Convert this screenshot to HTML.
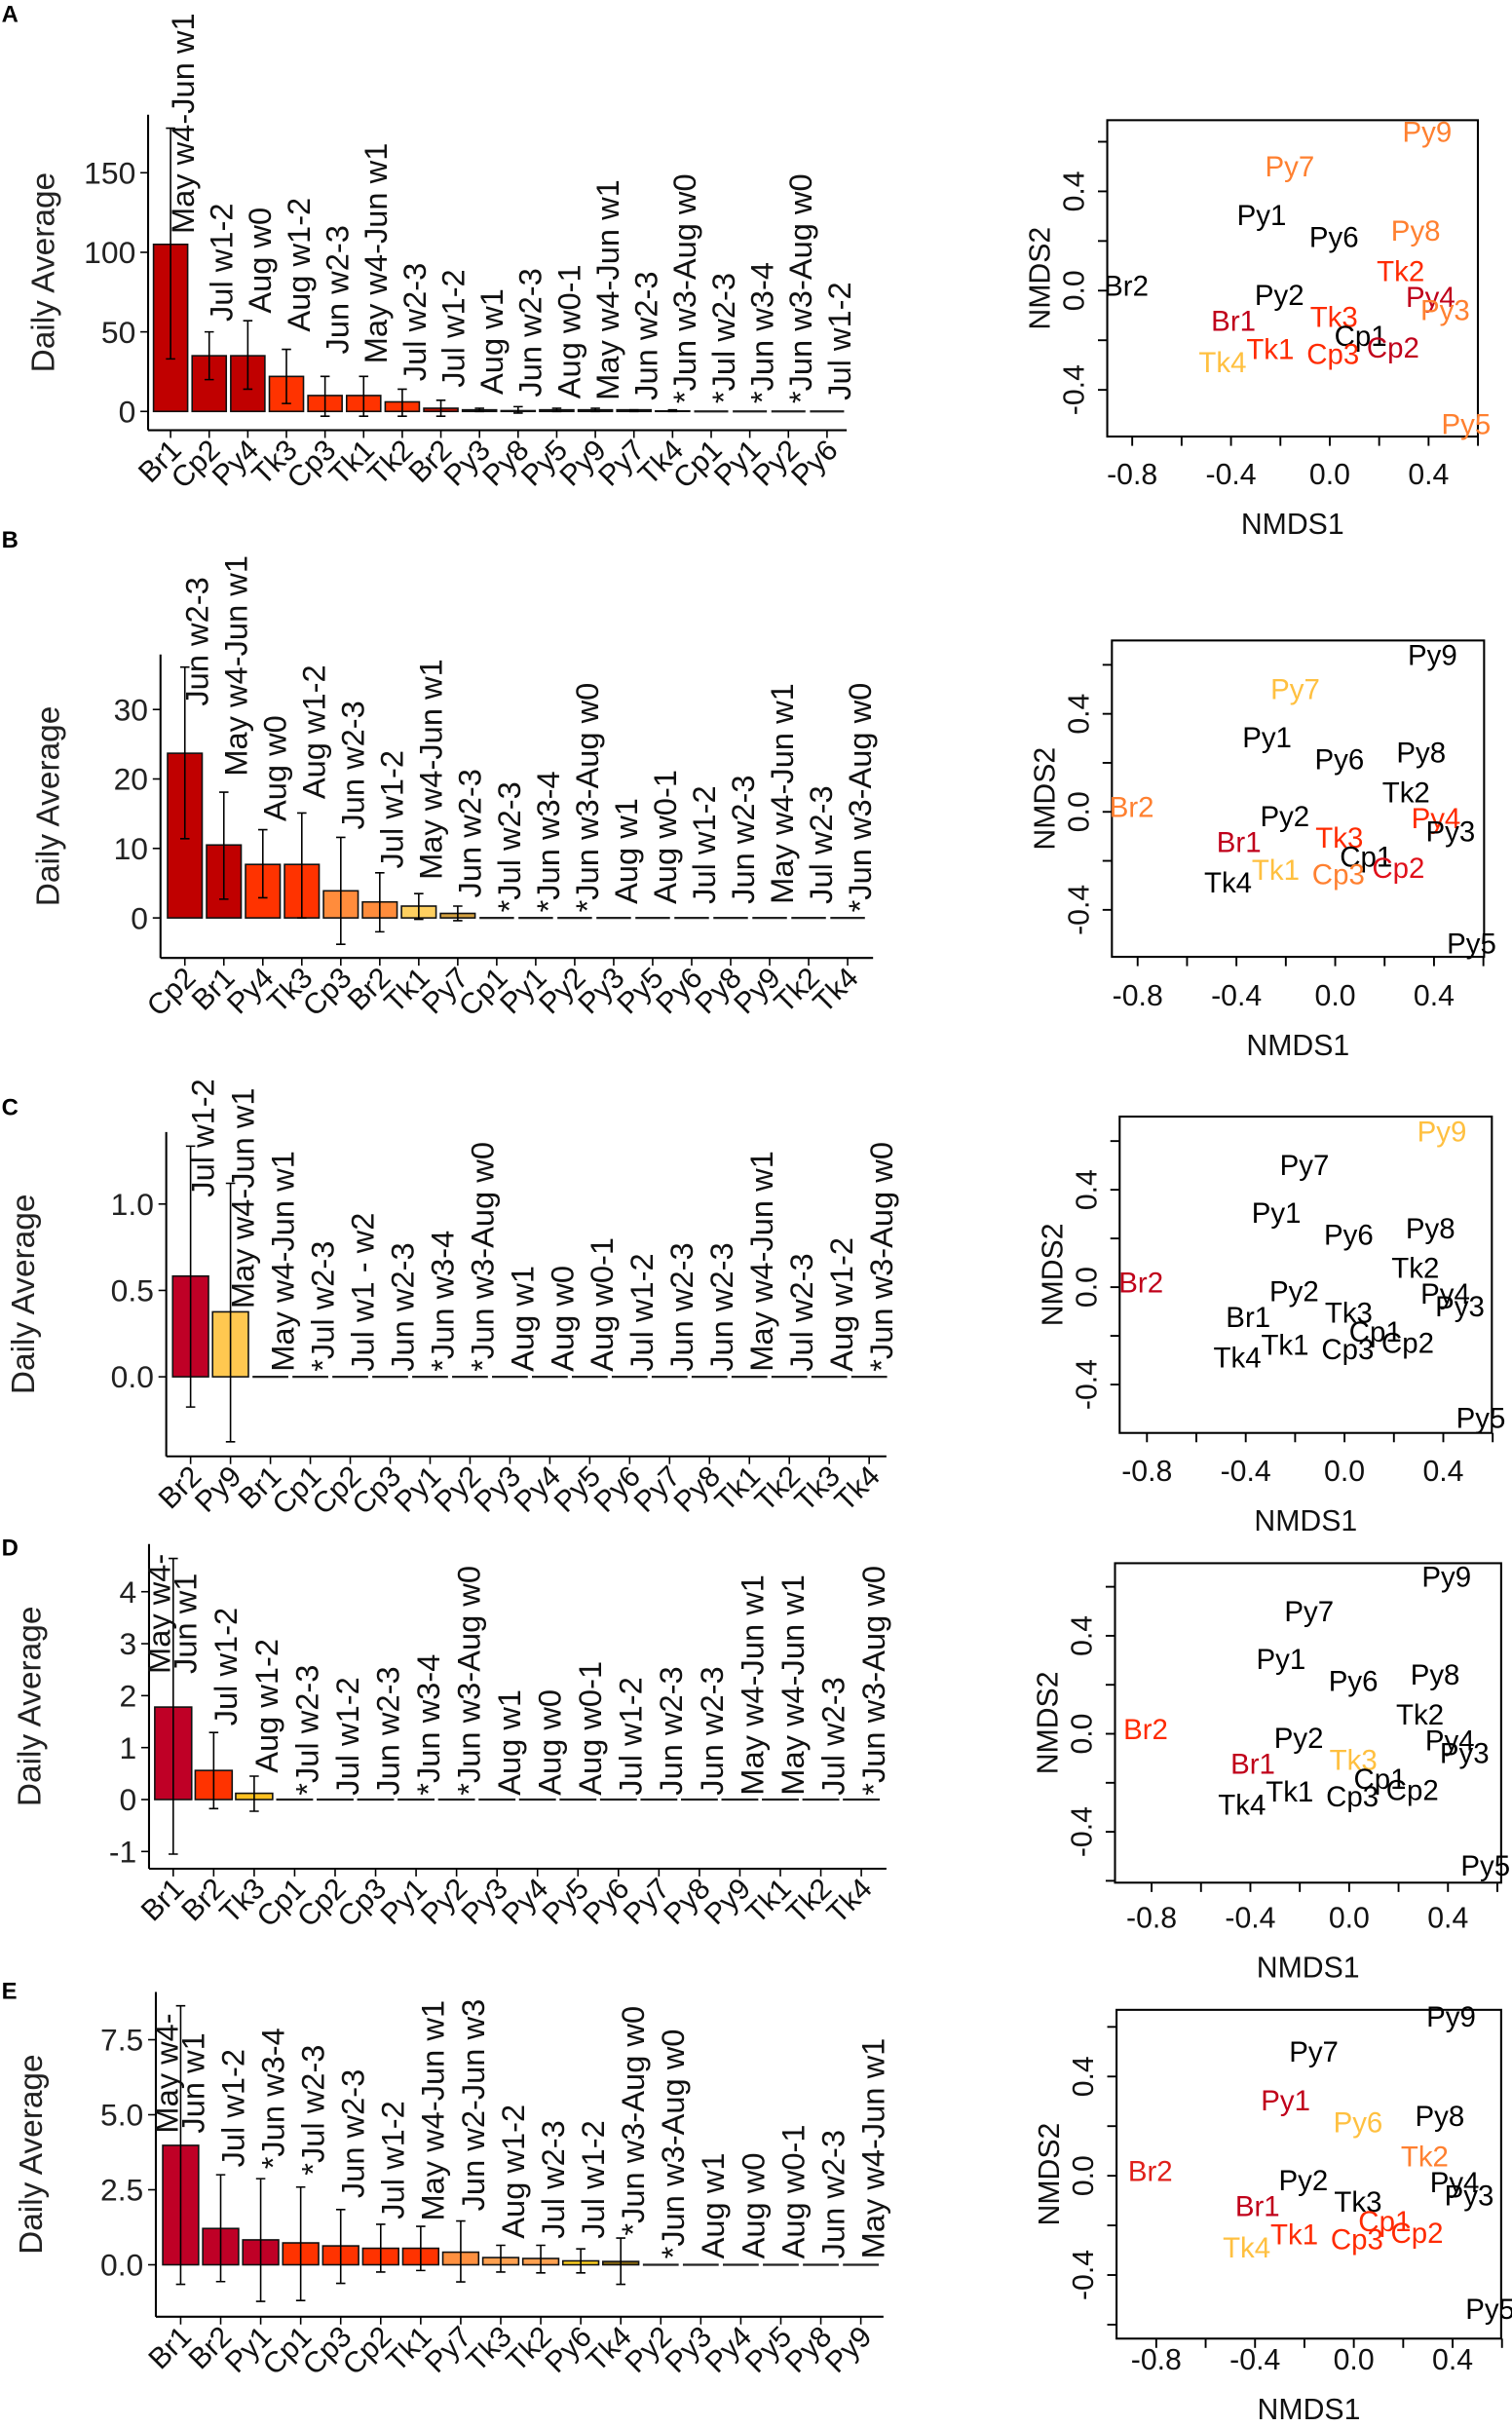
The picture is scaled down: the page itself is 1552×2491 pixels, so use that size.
<!DOCTYPE html>
<html><head><meta charset="utf-8"><title>Daily averages and NMDS</title>
<style>html,body{margin:0;padding:0;background:#fff}svg{display:block}text{font-family:"Liberation Sans",Arial,sans-serif}</style>
</head><body>
<svg id="fig" xmlns="http://www.w3.org/2000/svg" width="1552" height="2491" viewBox="0 0 975 1565" preserveAspectRatio="none"></svg>
<script>
// ---------- Panel A data ----------
const catsA=["Br1","Cp2","Py4","Tk3","Cp3","Tk1","Tk2","Br2","Py3","Py8","Py5","Py9","Py7","Tk4","Cp1","Py1","Py2","Py6"];
const valsA=[105,35,35,22,10,10,6,2,1,0.5,1,1,1,0.3,0,0,0,0];
const loA=[33,20,14,5,-3,-3,-3,-3,0,-1,0,0,0,0,0,0,0,0];
const hiA=[178,50,57,39,22,22,14,7,2,3,2,2,1,1,0,0,0,0];
const labA=["May w4-Jun w1","Jul w1-2","Aug w0","Aug w1-2","Jun w2-3","May w4-Jun w1","Jul w2-3","Jul w1-2","Aug w1","Jun w2-3","Aug w0-1","May w4-Jun w1","Jun w2-3","*Jun w3-Aug w0","*Jul w2-3","*Jun w3-4","*Jun w3-Aug w0","Jul w1-2"];
const labAtA=[111.6,56.5,61.6,50,36,30,19,15,10.6,9,8,7,7,5,5,5,5,7];
const colA=["#c00000","#c00000","#c00000","#ff3300","#ff3300","#ff3300","#ff3300","#c01000","#333","#333","#333","#333","#333","#333","#333","#333","#333","#333"];
const ticksA=[0,50,100,150];
const tickLabA=["0","50","100","150"];
// ---------- Panel B data ----------
const catsB=["Cp2","Br1","Py4","Tk3","Cp3","Br2","Tk1","Py7","Cp1","Py1","Py2","Py3","Py5","Py6","Py8","Py9","Tk2","Tk4"];
const valsB=[23.7,10.5,7.7,7.7,3.9,2.3,1.7,0.65,0,0,0,0,0,0,0,0,0,0];
const loB=[11.4,2.7,2.9,0,-3.8,-2,-0.2,-0.4,0,0,0,0,0,0,0,0,0,0];
const hiB=[36.1,18.1,12.7,15.1,11.6,6.5,3.5,1.7,0,0,0,0,0,0,0,0,0,0];
const labB=["Jun w2-3","May w4-Jun w1","Aug w0","Aug w1-2","Jun w2-3","Jul w1-2","May w4-Jun w1","Jun w2-3","*Jul w2-3","*Jun w3-4","*Jun w3-Aug w0","Aug w1","Aug w0-1","Jul w1-2","Jun w2-3","May w4-Jun w1","Jul w2-3","*Jun w3-Aug w0"];
const labAtB=[30.5,20.4,13.9,17.1,12.7,7.1,5.5,2.9,0.8,0.8,0.8,2,2,2,2,2,2,0.8];
const colB=["#c00000","#c00000","#ff3300","#ff3300","#ff8c3c","#ff8c3c","#ffd060","#d4a040","#333","#333","#333","#333","#333","#333","#333","#333","#333","#333"];
const ticksB=[0,10,20,30];
const tickLabB=["0","10","20","30"];
// ---------- Panel C data ----------
const catsC=["Br2","Py9","Br1","Cp1","Cp2","Cp3","Py1","Py2","Py3","Py4","Py5","Py6","Py7","Py8","Tk1","Tk2","Tk3","Tk4"];
const valsC=[0.583,0.376,0,0,0,0,0,0,0,0,0,0,0,0,0,0,0,0];
const loC=[-0.175,-0.376,0,0,0,0,0,0,0,0,0,0,0,0,0,0,0,0];
const hiC=[1.335,1.12,0,0,0,0,0,0,0,0,0,0,0,0,0,0,0,0];
const labC=["Jul w1-2","May w4-Jun w1","May w4-Jun w1","*Jul w2-3","Jul w1 - w2","Jun w2-3","*Jun w3-4","*Jun w3-Aug w0","Aug w1","Aug w0","Aug w0-1","Jul w1-2","Jun w2-3","Jun w2-3","May w4-Jun w1","Jul w2-3","Aug w1-2","*Jun w3-Aug w0"];
const labAtC=[1.04,0.395,0.03,0.03,0.03,0.03,0.03,0.03,0.03,0.03,0.03,0.03,0.03,0.03,0.03,0.03,0.03,0.03];
const colC=["#bf0026","#ffc850","#333","#333","#333","#333","#333","#333","#333","#333","#333","#333","#333","#333","#333","#333","#333","#333"];
const ticksC=[0,0.5,1.0];
const tickLabC=["0.0","0.5","1.0"];
// ---------- Panel D data ----------
const catsD=["Br1","Br2","Tk3","Cp1","Cp2","Cp3","Py1","Py2","Py3","Py4","Py5","Py6","Py7","Py8","Py9","Tk1","Tk2","Tk4"];
const valsD=[1.78,0.56,0.12,0,0,0,0,0,0,0,0,0,0,0,0,0,0,0];
const loD=[-1.05,-0.175,-0.225,0,0,0,0,0,0,0,0,0,0,0,0,0,0,0];
const hiD=[4.64,1.29,0.45,0,0,0,0,0,0,0,0,0,0,0,0,0,0,0];
const labD=["May w4-\nJun w1","Jul w1-2","Aug w1-2","*Jul w2-3","Jul w1-2","Jun w2-3","*Jun w3-4","*Jun w3-Aug w0","Aug w1","Aug w0","Aug w0-1","Jul w1-2","Jun w2-3","Jun w2-3","May w4-Jun w1","May w4-Jun w1","Jul w2-3","*Jun w3-Aug w0"];
const labAtD=[2.42,1.42,0.51,0.08,0.08,0.08,0.08,0.08,0.08,0.08,0.08,0.08,0.08,0.08,0.08,0.08,0.08,0.08];
const colD=["#bf0026","#ff3300","#ffc020","#333","#333","#333","#333","#333","#333","#333","#333","#333","#333","#333","#333","#333","#333","#333"];
const ticksD=[-1,0,1,2,3,4];
const tickLabD=["-1","0","1","2","3","4"];
// ---------- Panel E data ----------
const catsE=["Br1","Br2","Py1","Cp1","Cp3","Cp2","Tk1","Py7","Tk3","Tk2","Py6","Tk4","Py2","Py3","Py4","Py5","Py8","Py9"];
const valsE=[3.98,1.21,0.83,0.73,0.63,0.55,0.55,0.42,0.24,0.21,0.13,0.11,0,0,0,0,0,0];
const loE=[-0.65,-0.56,-1.22,-1.19,-0.62,-0.24,-0.19,-0.57,-0.24,-0.27,-0.27,-0.65,0,0,0,0,0,0];
const hiE=[8.63,3.0,2.87,2.59,1.84,1.35,1.28,1.46,0.65,0.65,0.53,0.89,0,0,0,0,0,0];
const labE=["May w4-\nJun w1","Jul w1-2","*Jun w3-4","*Jul w2-3","Jun w2-3","Jul w1-2","May w4-Jun w1","Jun w2-Jun w3","Aug w1-2","Jul w2-3","Jul w1-2","*Jun w3-Aug w0","*Jun w3-Aug w0","Aug w1","Aug w0","Aug w0-1","Jun w2-3","May w4-Jun w1"];
const labAtE=[4.38,3.25,3.19,2.98,2.22,1.52,1.46,1.79,0.87,0.87,0.87,0.97,0.2,0.2,0.2,0.2,0.2,0.2];
const colE=["#bf0026","#bf0026","#bf0026","#ff3300","#ff3300","#ff3300","#ff3300","#ff9040","#ffa050","#ffa050","#ffd020","#8b6a10","#333","#333","#333","#333","#333","#333"];
const ticksE=[0,2.5,5,7.5];
const tickLabE=["0.0","2.5","5.0","7.5"];
// ---------- NMDS data ----------
const ptNames=["Py9","Py7","Py1","Py6","Py8","Tk2","Br2","Py4","Py3","Py2","Br1","Tk3","Cp1","Tk1","Cp3","Cp2","Tk4","Py5"];
const ptX=[0.394,-0.162,-0.276,0.017,0.348,0.287,-0.824,0.408,0.467,-0.204,-0.39,0.017,0.125,-0.241,0.013,0.256,-0.434,0.552];
const ptY=[0.641,0.501,0.305,0.216,0.242,0.079,0.02,-0.026,-0.079,-0.017,-0.122,-0.105,-0.183,-0.236,-0.255,-0.229,-0.288,-0.537];
const sColA=["#ff8030","#ff8030","#000","#000","#ff8030","#ff2a00","#000","#c0001a","#ff8030","#000","#c0001a","#ff2a00","#000","#ff2a00","#ff2a00","#c0001a","#ffc040","#ff8030"];
const sColB=["#000","#ffc040","#000","#000","#000","#000","#ff8030","#ff2a00","#000","#000","#c0001a","#ff2a00","#000","#ffc040","#ff8030","#e0101a","#000","#000"];
const sColC=["#ffc040","#000","#000","#000","#000","#000","#c0001a","#000","#000","#000","#000","#000","#000","#000","#000","#000","#000","#000"];
const sColD=["#000","#000","#000","#000","#000","#000","#ff2a00","#000","#000","#000","#c0001a","#ffc040","#000","#000","#000","#000","#000","#000"];
const sColE=["#000","#000","#c0001a","#ffc040","#000","#ff8030","#e0201a","#000","#000","#000","#c0001a","#000","#ff2a00","#ff2a00","#ff2a00","#ff2a00","#ffc040","#000"];
const nmdsTicks=[-0.8,-0.6,-0.4,-0.2,0,0.2,0.4,0.6];
const nmdsLabX=[-0.8,-0.4,0,0.4];
const nmdsLabY=[-0.4,0,0.4];

const NS="http://www.w3.org/2000/svg";
const svg=document.getElementById('fig');
function mk(tag,attrs,parent,txt){const e=document.createElementNS(NS,tag);for(const k in attrs)e.setAttribute(k,attrs[k]);if(txt!==undefined)e.textContent=txt;(parent||svg).appendChild(e);return e;}

function drawBar(L,key,cats,vals,lo,hi,labs,labAt,cols,ticks,tickLabs){
  const g=mk('g',{});
  
  
  const y=v=>L.zeroY-v*L.ppu;
  const x=i=>L.cx0+i*L.pitch;
  const ax=mk('line',{x1:L.axX,y1:L.top,x2:L.axX,y2:L.axY,stroke:'#000','stroke-width':1.3},g);
  
  const bx=mk('line',{x1:L.axX,y1:L.axY,x2:L.xEnd,y2:L.axY,stroke:'#000','stroke-width':1.3},g);
  
  ticks.forEach((t,i)=>{
    mk('line',{x1:L.axX-5,y1:y(t),x2:L.axX,y2:y(t),stroke:'#000','stroke-width':1},g);
    const tl=mk('text',{x:L.axX-8,y:y(t)+7,'text-anchor':'end','font-size':20,fill:'#222'},g,tickLabs[i]);
    
  });
  const yt=mk('text',{transform:`translate(${L.titleX},${(L.top+L.axY)/2}) rotate(-90)`,'text-anchor':'middle','font-size':21,fill:'#222'},g,'Daily Average');
  
  cats.forEach((c,i)=>{
    const cx=x(i),w=L.bw;
    if(vals[i]>0){
      const r=mk('rect',{x:cx-w/2,y:y(vals[i]),width:w,height:y(0)-y(vals[i]),fill:cols[i],stroke:'#111','stroke-width':1},g);
      
    } else {
      const r=mk('line',{x1:cx-w/2,y1:y(0),x2:cx+w/2,y2:y(0),stroke:'#222','stroke-width':1.4},g);
      
    }
    if(hi[i]!==lo[i]){
      const e=mk('path',{d:`M${cx},${y(hi[i])}V${y(lo[i])}M${cx-3},${y(hi[i])}H${cx+3}M${cx-3},${y(lo[i])}H${cx+3}`,stroke:'#000','stroke-width':1,fill:'none'},g);
      
    }
    mk('line',{x1:cx,y1:L.axY,x2:cx,y2:L.axY+5,stroke:'#000','stroke-width':1},g);
    const cl=mk('text',{transform:`translate(${cx+8},${L.axY+14}) rotate(-45)`,'text-anchor':'end','font-size':19,fill:'#111'},g,c);
    
    const lines=labs[i].split('\n');
    lines.forEach((ln,k)=>{
      const t=mk('text',{transform:`translate(${cx+15+(k-(lines.length-1))*17},${y(labAt[i])}) rotate(-90)`,'font-size':20.5,fill:'#111'},g,ln);
      
    });
  });
}

function drawScatter(S,key,cols){
  const g=mk('g',{});
  
  
  const X=v=>S.x0+v*159.25, Y=v=>S.y0-v*S.sy;
  const b=mk('rect',{x:S.l,y:S.t,width:S.r-S.l,height:S.b-S.t,fill:'none',stroke:'#000','stroke-width':1.3},g);
  
  nmdsTicks.forEach(t=>{const px=X(t);if(px>=S.l-1&&px<=S.r+1)mk('line',{x1:px,y1:S.b,x2:px,y2:S.b+6,stroke:'#000','stroke-width':1.2},g);
    const py=Y(t);if(py>=S.t&&py<=S.b)mk('line',{x1:S.l-6,y1:py,x2:S.l,y2:py,stroke:'#000','stroke-width':1.2},g);});
  nmdsLabX.forEach(t=>{const tl=mk('text',{x:X(t),y:S.y0+125,'text-anchor':'middle','font-size':19,fill:'#111'},g,t.toFixed(1));
    });
  nmdsLabY.forEach(t=>{const tl=mk('text',{transform:`translate(${S.l-15},${Y(t)}) rotate(-90)`,'text-anchor':'middle','font-size':19,fill:'#111'},g,t.toFixed(1));
    });
  const xt=mk('text',{x:(S.l+S.r)/2,y:S.y0+157,'text-anchor':'middle','font-size':19,fill:'#111'},g,'NMDS1');
  
  const ytt=mk('text',{transform:`translate(${S.l-37},${(S.t+S.b)/2}) rotate(-90)`,'text-anchor':'middle','font-size':19,fill:'#111'},g,'NMDS2');
  
  ptNames.forEach((n,i)=>{
    const t=mk('text',{x:X(ptX[i]),y:Y(ptY[i])+6.5,'text-anchor':'middle','font-size':18.5,fill:cols[i]},g,n);
    
  });
}

drawBar({axX:95.5,top:74,axY:277.4,xEnd:546,zeroY:265.3,ppu:1.026,cx0:110,pitch:24.9,bw:22,titleX:35},'a',catsA,valsA,loA,hiA,labA,labAtA,colA,ticksA,tickLabA);
drawBar({axX:103.5,top:422,axY:617.7,xEnd:563,zeroY:591.9,ppu:4.48,cx0:119.2,pitch:25.14,bw:22.3,titleX:38},'b',catsB,valsB,loB,hiB,labB,labAtB,colB,ticksB,tickLabB);
drawBar({axX:107.2,top:730,axY:939.1,xEnd:571.6,zeroY:887.8,ppu:111.4,cx0:122.9,pitch:25.74,bw:23.1,titleX:22},'c',catsC,valsC,loC,hiC,labC,labAtC,colC,ticksC,tickLabC);
drawBar({axX:96.1,top:995.6,axY:1205,xEnd:571.6,zeroY:1160.4,ppu:33.5,cx0:111.7,pitch:26.1,bw:23.8,titleX:26},'d',catsD,valsD,loD,hiD,labD,labAtD,colD,ticksD,tickLabD);
drawBar({axX:100.5,top:1284.5,axY:1493.9,xEnd:569.7,zeroY:1460.4,ppu:19.35,cx0:116.5,pitch:25.8,bw:23.1,titleX:27},'e',catsE,valsE,loE,hiE,labE,labAtE,colE,ticksE,tickLabE);

drawScatter({x0:857.5,y0:187.4,sy:160,l:714,r:953,t:77.5,b:281.5},'a',sColA);
drawScatter({x0:861,y0:523.5,sy:158,l:717,r:957,t:413,b:617},'b',sColB);
drawScatter({x0:867,y0:830,sy:157,l:722,r:962,t:720,b:924},'c',sColC);
drawScatter({x0:870,y0:1118,sy:158,l:719,r:968,t:1008,b:1214},'d',sColD);
drawScatter({x0:873,y0:1403,sy:160,l:720,r:968,t:1296,b:1508},'e',sColE);

[["A",8],["B",347],["C",713],["D",997],["E",1283]].forEach(([l,yy])=>{
  const t=mk('text',{x:1,y:yy+6,'font-size':15,'font-weight':'bold',fill:'#000'},svg,l);
  
  
});
</script>
</body></html>
